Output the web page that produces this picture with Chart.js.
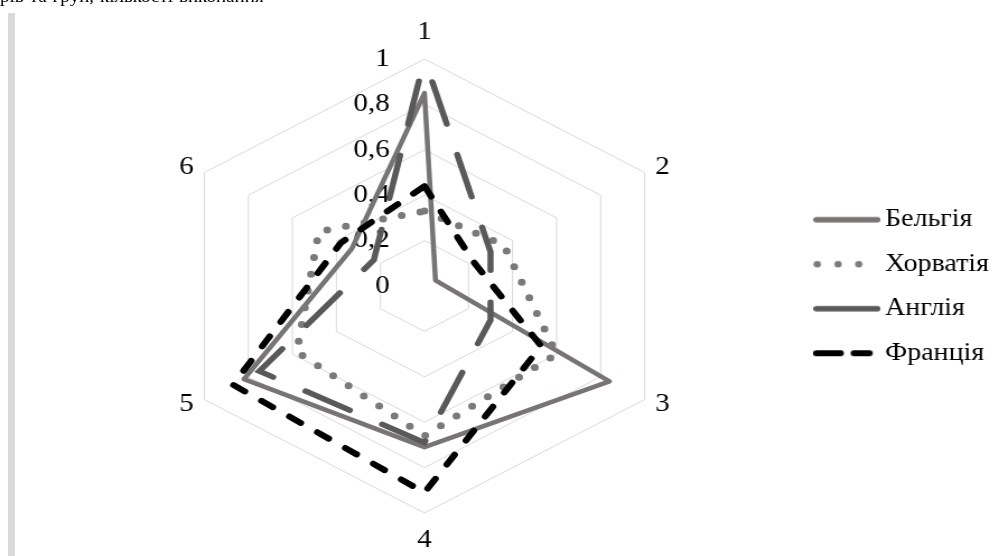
<!DOCTYPE html>
<html><head><meta charset="utf-8">
<script src="https://cdn.jsdelivr.net/npm/chart.js@4.4.1/dist/chart.umd.min.js"></script>
<style>
html,body{margin:0;padding:0;background:#fff;width:1006px;height:556px;overflow:hidden;position:relative;}
#wrap{position:absolute;left:0;top:0;width:898px;height:556px;transform:scaleX(1.12);transform-origin:0 0;overflow:hidden;}
#bar{position:absolute;left:8px;top:13px;width:7px;height:543px;background:#d9d9d9;}
#toptext{position:absolute;left:0;top:-11.5px;font-family:'Liberation Serif',serif;font-size:17px;line-height:16px;white-space:nowrap;word-spacing:1px;color:#000;}
canvas{position:absolute;left:0;top:0;}
</style></head><body>
<div id="wrap"><div id="toptext">рів та груп, кількості виконання</div><canvas id="c" width="898" height="556"></canvas></div>
<div id="bar"></div>
<script>
// ---- data ----
const categories = ['1', '2', '3', '4', '5', '6'];
const seriesNames = ['Бельгія', 'Хорватія', 'Англія', 'Франція'];
const belgium = [0.85, 0.05, 0.84, 0.71, 0.82, 0.33];
const croatia = [0.33, 0.36, 0.60, 0.66, 0.58, 0.48];
const england = [1.00, 0.30, 0.30, 0.69, 0.75, 0.23];
const france  = [0.44, 0.22, 0.53, 0.91, 0.87, 0.38];
const tickLabels = ['0', '0,2', '0,4', '0,6', '0,8', '1'];

// ---- styles ----
const FONT = "'Liberation Serif', 'Times New Roman', serif";
Chart.defaults.font.family = FONT;
const seriesColors = ['#787474', '#7a7a7a', '#595959', '#000000'];

// legend swatches (line samples as in the original legend)
const swatchSpecs = [
  { dash: [], from: 2.75, to: 57.25, width: 5.5 },
  { dash: [0, 18.5], from: 3.5, to: 45, width: 6.5 },
  { dash: [], from: 2.75, to: 57.25, width: 5.5 },
  { dash: [21.5, 12], from: 2.75, to: 50, width: 6 }
];
function makeSwatch(i) {
  const c = document.createElement('canvas');
  c.width = 60; c.height = 10;
  const g = c.getContext('2d');
  const sp = swatchSpecs[i];
  g.strokeStyle = seriesColors[i];
  g.lineWidth = sp.width;
  g.lineCap = 'round';
  g.setLineDash(sp.dash);
  g.beginPath();
  g.moveTo(sp.from, 5);
  g.lineTo(sp.to, 5);
  g.stroke();
  return c;
}
const swatches = seriesNames.map((_, i) => makeSwatch(i));

const excelLabels = {
  id: 'excelLabels',
  beforeDatasetsDraw(chart) {
    const s = chart.scales.r;
    const ctx = chart.ctx;
    ctx.save();
    ctx.font = "26px " + FONT;
    ctx.fillStyle = '#000';
    ctx.textAlign = 'right';
    ctx.textBaseline = 'middle';
    s.ticks.forEach((t, i) => {
      const d = s.getDistanceFromCenterForValue(t.value);
      ctx.fillText(tickLabels[i], s.xCenter - 31, s.yCenter - d);
    });
    ctx.textAlign = 'center';
    categories.forEach((c, i) => {
      const v = s.getPointPosition(i, s.drawingArea);
      const dx = v.x - s.xCenter, dy = v.y - s.yCenter;
      let x, y;
      if (Math.abs(dx) < 1) {
        x = v.x; y = v.y + Math.sign(dy) * 27;
      } else {
        x = v.x + Math.sign(dx) * 16; y = v.y + Math.sign(dy) * 5;
      }
      ctx.fillText(c, x, y);
    });
    ctx.restore();
  }
};

new Chart(document.getElementById('c'), {
  type: 'radar',
  data: {
    labels: categories,
    datasets: [
      { label: seriesNames[0], data: belgium, borderColor: seriesColors[0], borderWidth: 4.5,
        borderJoinStyle: 'round', borderCapStyle: 'round', order: 3 },
      { label: seriesNames[1], data: croatia, borderColor: seriesColors[1], borderWidth: 7,
        borderDash: [0, 17], borderCapStyle: 'round', order: 2 },
      { label: seriesNames[2], data: england, borderColor: seriesColors[2], borderWidth: 5.5,
        borderDash: [44, 32], borderDashOffset: 52, borderCapStyle: 'round', order: 1 },
      { label: seriesNames[3], data: france, borderColor: seriesColors[3], borderWidth: 6,
        borderDash: [12, 17.5], borderCapStyle: 'round', order: 0 }
    ]
  },
  options: {
    responsive: false,
    animation: false,
    devicePixelRatio: 1,
    elements: { line: { fill: false, tension: 0, backgroundColor: 'transparent' }, point: { radius: 0, hoverRadius: 0 } },
    layout: { padding: { left: 44, right: 5, top: 59, bottom: 42 } },
    plugins: {
      tooltip: { enabled: false },
      legend: {
        position: 'right',
        align: 'center',
        labels: {
          usePointStyle: true,
          pointStyleWidth: 43,
          padding: 19.5,
          color: '#000',
          font: { size: 25, family: FONT },
          generateLabels(chart) {
            return chart.data.datasets.map((ds, i) => ({
              text: ds.label,
              fillStyle: 'transparent',
              strokeStyle: ds.borderColor,
              lineWidth: 0,
              pointStyle: swatches[i],
              fontColor: '#000',
              hidden: false,
              datasetIndex: i
            }));
          }
        }
      }
    },
    scales: {
      r: {
        min: 0, max: 1,
        ticks: { stepSize: 0.2, display: false },
        pointLabels: { display: false },
        angleLines: { display: false },
        grid: { color: '#d9d9d9', lineWidth: 1 }
      }
    }
  },
  plugins: [excelLabels]
});
</script>
</body></html>
